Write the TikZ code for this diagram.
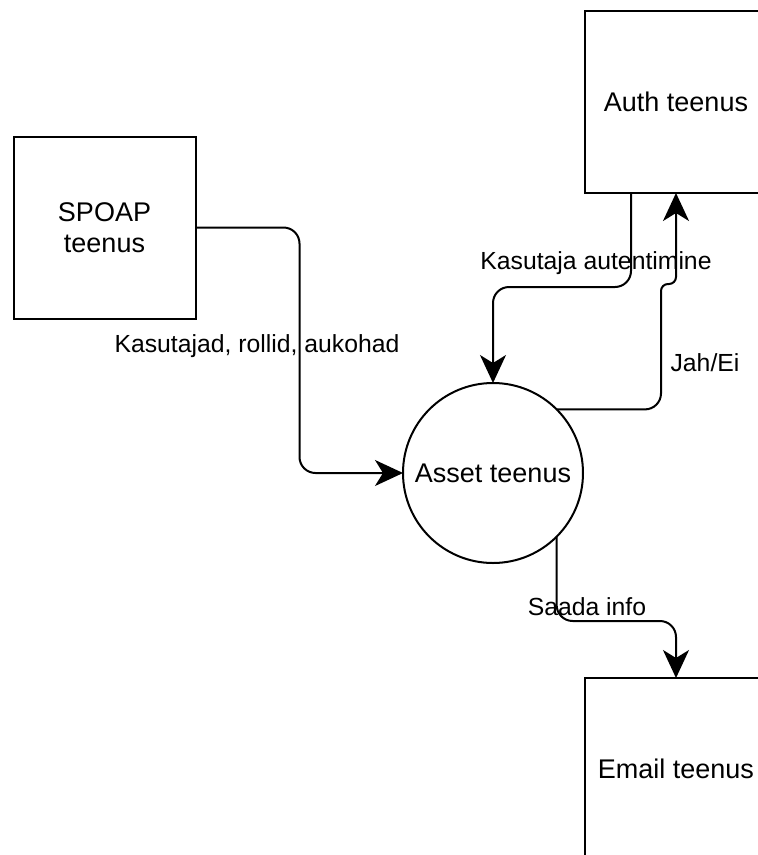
\documentclass[tikz,border=0pt]{standalone}
\usepackage{fontspec}
\setmainfont{Liberation Sans}
\usetikzlibrary{arrows.meta}
\begin{document}
\begin{tikzpicture}[x=1pt,y=-1pt,
  box/.style={draw,line width=2pt,minimum width=182pt,minimum height=182pt,inner sep=0pt,outer sep=0pt,font=\fontsize{27}{31}\selectfont,align=center},
  proc/.style={draw,circle,line width=2pt,minimum size=180pt,inner sep=0pt,outer sep=0pt,font=\fontsize{27}{31}\selectfont},
  flow/.style={line width=2pt,-{Stealth[length=28pt,width=26pt,inset=8pt]},rounded corners=16pt},
  lbl/.style={font=\fontsize{24.75}{28}\selectfont,inner sep=0pt}]
\useasboundingbox (0,0) rectangle (758,855);
\clip (0,0) rectangle (758,855);
\node[box] (spoap) at (104.5,227.5) {SPOAP\\teenus};
\node[box] (auth) at (676,102) {Auth teenus};
\node[box] (email) at (676,769) {Email teenus};
\node[proc] (asset) at (493,473) {Asset teenus};
\draw[flow] (spoap.east) -- ++(104,0) |- (asset.west);
\draw[flow] ([xshift=46pt]auth.south west) -- ++(0,94) -| (asset.north);
\draw[flow] (asset.45) -- (661,409.4) [rounded corners=7pt] -- (661,284) -- (676,284) -- (auth.south);
\draw[flow] (asset.-45) |- ([yshift=57pt]email.north) -- (email.north);
\node[lbl] (l1) at (257,346) {Kasutajad, rollid, aukohad};
\node[lbl] (l2) at (596,263) {Kasutaja autentimine};
\node[lbl] (l3) at (705,363) {Jah/Ei};
\node[lbl] (l4) at (587,607) {Saada info};
\end{tikzpicture}
\end{document}
